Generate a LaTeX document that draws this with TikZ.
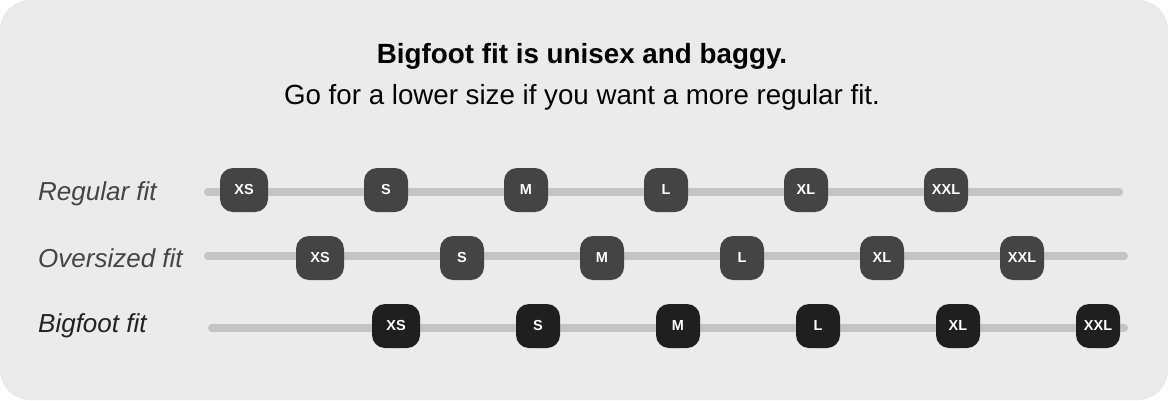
\documentclass[tikz,border=0pt]{standalone}
\usepackage{fontspec}
\setmainfont{Liberation Sans}
\definecolor{bgc}{HTML}{EBEBEB}
\definecolor{trackc}{HTML}{C4C4C4}
\definecolor{badgec}{HTML}{444444}
\definecolor{badgedark}{HTML}{1F1F1F}
\definecolor{labelc}{HTML}{444444}
\definecolor{labeldark}{HTML}{222222}
\tikzset{
  track/.style={draw=trackc, line width=8pt, line cap=round},
  badge/.style={fill=badgec, rounded corners=13pt, minimum height=44pt, minimum width=44pt, inner sep=0pt, text=white, font=\fontsize{14.5}{16}\selectfont\bfseries},
  badgewide/.style={badge, minimum width=48pt},
  darkbadge/.style={fill=badgedark},
  rowlabel/.style={anchor=base west, inner sep=0pt, text=labelc, font=\fontsize{26}{30}\selectfont\itshape},
  titletext/.style={anchor=base, inner sep=0pt, font=\fontsize{27.7}{32}\selectfont},
}
\begin{document}
\begin{tikzpicture}[x=1pt, y=-1pt]
\useasboundingbox (0,0) rectangle (1168,400);
\fill[white] (0,0) rectangle (1168,400);
\fill[bgc, rounded corners=30pt] (0,0) rectangle (1168,400);
\node[titletext, font=\fontsize{27.8}{32}\selectfont\bfseries] (title) at (582,63) {Bigfoot fit is unisex and baggy.};
\node[titletext] (subtitle) at (582,104) {Go for a lower size if you want a more regular fit.};
% row labels
\node[rowlabel] (lreg) at (38,200) {Regular fit};
\node[rowlabel] (lover) at (38,267) {Oversized fit};
\node[rowlabel, text=labeldark] (lbig) at (38,332) {Bigfoot fit};
% tracks
\coordinate (r1) at (208,192); \coordinate (r2) at (1119,192);
\coordinate (o1) at (208,256); \coordinate (o2) at (1124,256);
\coordinate (b1) at (212,328); \coordinate (b2) at (1124,328);
\draw[track] (r1) -- (r2);
\draw[track] (o1) -- (o2);
\draw[track] (b1) -- (b2);
% regular
\node[badgewide] (rxs) at (244,190) {XS};
\node[badge] (rs) at (386,190) {S};
\node[badge] (rm) at (526,190) {M};
\node[badge] (rl) at (666,190) {L};
\node[badge] (rxl) at (806,190) {XL};
\node[badge] (rxxl) at (946,190) {XXL};
% oversized
\node[badgewide] (oxs) at (320,258) {XS};
\node[badge] (os) at (462,258) {S};
\node[badge] (om) at (602,258) {M};
\node[badge] (ol) at (742,258) {L};
\node[badge] (oxl) at (882,258) {XL};
\node[badge] (oxxl) at (1022,258) {XXL};
% bigfoot
\node[badgewide, darkbadge] (bxs) at (396,326) {XS};
\node[badge, darkbadge] (bs) at (538,326) {S};
\node[badge, darkbadge] (bm) at (678,326) {M};
\node[badge, darkbadge] (bl) at (818,326) {L};
\node[badge, darkbadge] (bxl) at (958,326) {XL};
\node[badge, darkbadge] (bxxl) at (1098,326) {XXL};
\end{tikzpicture}
\end{document}
